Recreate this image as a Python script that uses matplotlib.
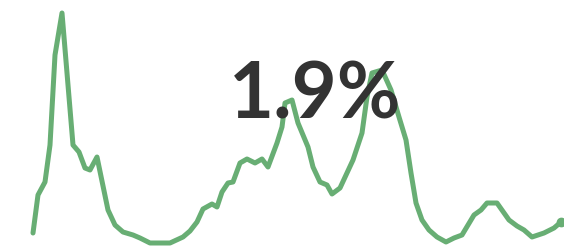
import matplotlib
matplotlib.use('Agg')
import matplotlib.pyplot as plt

# --- Datos (días desde el inicio, valor) ---
dias = [0, 5, 12, 17, 22, 29, 40, 46, 52, 57, 64, 75, 82, 90, 100, 107, 117, 127,
        137, 150, 157, 164, 170, 179, 184, 189, 195, 200, 207, 214, 222, 229, 235,
        244, 249, 252, 259, 265, 275, 280, 287, 294, 299, 307, 320, 329, 334, 339,
        349, 358, 366, 373, 378, 383, 389, 396, 404, 413, 421, 429, 441, 448, 454,
        464, 476, 484, 491, 499, 511, 521, 528]
valores = [1.3, 5.1, 6.4, 10.1, 19.1, 23.3, 10.1, 9.4, 7.8, 7.6, 8.9, 3.6, 2.1,
           1.4, 1.1, 0.8, 0.3, 0.3, 0.3, 0.9, 1.5, 2.4, 3.7, 4.2, 3.9, 5.4, 6.3,
           6.4, 8.3, 8.7, 8.3, 8.7, 7.9, 10.3, 11.9, 14.3, 14.6, 12.3, 9.9, 7.9,
           6.4, 6.1, 5.2, 5.8, 8.6, 11.3, 14.9, 17.3, 17.6, 15.6, 12.9, 10.6, 7.3,
           4.3, 2.6, 1.6, 0.9, 0.4, 0.8, 1.1, 3.1, 3.6, 4.3, 4.3, 2.6, 2.0, 1.6,
           0.9, 1.3, 1.8, 2.4]
etiqueta = '1.9%'

verde = '#68ae74'

fig = plt.figure(figsize=(5.64, 2.46), dpi=100)
ax = fig.add_axes([0, 0, 1, 1])
ax.plot(dias, valores, color=verde, lw=3.6, solid_capstyle='round',
        solid_joinstyle='round', zorder=2)
ax.plot(dias[-1], valores[-1], 'o', color=verde, ms=6, zorder=2)
ax.set_xlim(-33, 531)
ax.set_ylim(0, 24.6)
ax.axis('off')

# --- Valor grande ---
fig.text(0.5585, 0.52, etiqueta, ha='center', va='baseline',
         fontsize=56, fontweight='bold', family=['Lato', 'DejaVu Sans'],
         color='#333333', zorder=3)

fig.savefig('out.png', dpi=100, facecolor='white')
